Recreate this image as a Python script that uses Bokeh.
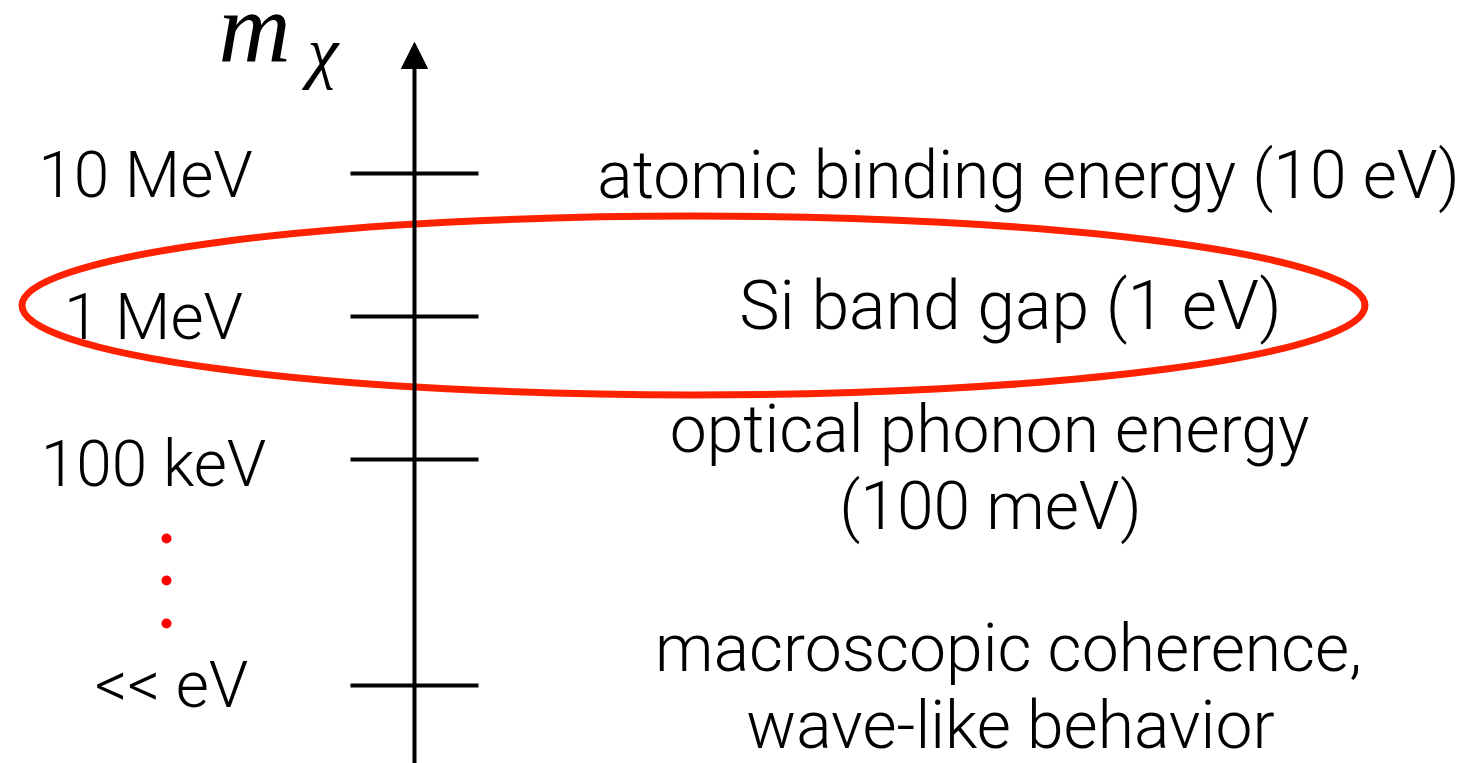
from bokeh.plotting import figure
from bokeh.models import Range1d, Arrow, NormalHead, ColumnDataSource
from bokeh.core.properties import value
from bokeh.embed import file_html
from bokeh.resources import INLINE

# ---- data (reference pixel coordinates used as data units) ----
tick_labels = ["10 MeV", "1 MeV", "100 keV", "<< eV"]
tick_y = [173, 316, 459, 685]
tick_label_x = [145, 153, 153, 171]
tick_label_base = [198, 340, 487, 708]

right_texts = ["atomic binding energy (10 eV)", "Si band gap (1 eV)",
               "optical phonon energy", "(100 meV)",
               "macroscopic coherence,", "wave-like behavior"]
right_x = [1028, 1010, 989, 990, 1008, 1010]
right_base = [198, 330, 452, 529, 671, 748]
right_size = [66, 68, 66, 66, 66, 66]

dots_x = [166, 166, 166]
dots_y = [538, 580, 623]

axis_x = 414
axis_y0 = 775
axis_y1 = 42
tick_x0 = 350
tick_x1 = 478

ell_x = [693]
ell_y = [305]
ell_w = [1343]
ell_h = [179]

FONT = "Roboto Light"
LEFT_SIZE = 64
BASE_SHIFT = 0.355  # renderer places text ~0.355 em below the given alphabetic y

W, H = 1479, 763
p = figure(width=W, height=H, output_backend="svg", toolbar_location=None,
           x_range=Range1d(0, W), y_range=Range1d(H, 0),
           min_border=0)
p.axis.visible = False
p.grid.visible = False
p.outline_line_color = None
p.background_fill_color = "white"
p.border_fill_color = "white"

# vertical axis with arrow
p.add_layout(Arrow(x_start=axis_x, y_start=axis_y0, x_end=axis_x, y_end=axis_y1,
                   line_width=4, line_color="black",
                   end=NormalHead(size=26, fill_color="black", line_color="black", line_width=1)))

# ticks
p.segment(x0=[tick_x0] * len(tick_y), y0=tick_y, x1=[tick_x1] * len(tick_y), y1=tick_y,
          line_width=4, line_color="black")

# tick labels
p.text(x=tick_label_x, y=[b - BASE_SHIFT * LEFT_SIZE for b in tick_label_base],
       text=tick_labels, text_align="center",
       text_baseline="alphabetic", text_font=value(FONT), text_font_size=f"{LEFT_SIZE}px",
       text_color="black")

# right descriptions
src = ColumnDataSource(dict(
    x=right_x,
    y=[b - BASE_SHIFT * s for b, s in zip(right_base, right_size)],
    text=right_texts,
    size=[f"{s}px" for s in right_size],
))
p.text(x="x", y="y", text="text", source=src, text_align="center",
       text_baseline="alphabetic", text_font=value(FONT), text_font_size="size",
       text_color="black")

# red dots
p.scatter(x=dots_x, y=dots_y, size=10, fill_color="#FF0000", line_color=None)

# red ellipse
p.ellipse(x=ell_x, y=ell_y, width=ell_w, height=ell_h, fill_color=None,
          line_color="#FF2200", line_width=7)

# m_chi label
p.text(x=[218], y=[62 - BASE_SHIFT * 100], text=["m"], text_font=value("Liberation Serif"),
       text_font_style="italic", text_font_size="100px", text_baseline="alphabetic",
       text_align="left", text_color="black")
p.text(x=[307], y=[76 - BASE_SHIFT * 70], text=["χ"], text_font=value("Liberation Serif"),
       text_font_style="italic", text_font_size="70px", text_baseline="alphabetic",
       text_align="left", text_color="black")

open("out.html", "w").write(file_html(p, INLINE))
